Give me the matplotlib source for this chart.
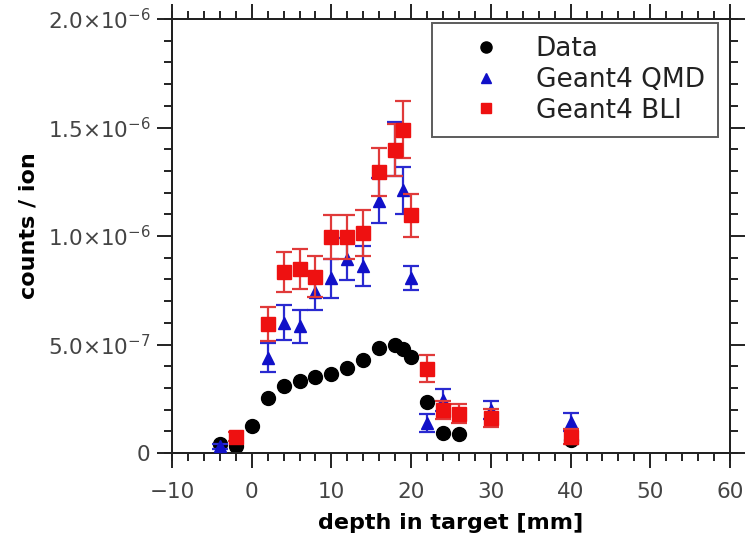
import matplotlib
matplotlib.use('Agg')
import matplotlib.pyplot as plt
from matplotlib.ticker import MultipleLocator
from matplotlib.lines import Line2D

# measured data
data_x = [-4, -2, 0, 2, 4, 6, 8, 10, 12, 14, 16, 18, 19, 20, 22, 24, 26, 40]
data_y = [0.40e-7, 0.34e-7, 1.24e-7, 2.52e-7, 3.08e-7, 3.31e-7, 3.51e-7, 3.64e-7,
          3.91e-7, 4.28e-7, 4.85e-7, 5.00e-7, 4.80e-7, 4.42e-7, 2.36e-7, 0.90e-7,
          0.87e-7, 0.60e-7]

# Geant4 QMD
qmd_x = [-4, 2, 4, 6, 8, 10, 12, 14, 16, 18, 19, 20, 22, 24, 30, 40]
qmd_y = [0.30e-7, 4.40e-7, 6.00e-7, 5.85e-7, 7.42e-7, 8.05e-7, 8.95e-7, 8.62e-7,
         1.163e-6, 1.40e-6, 1.21e-6, 8.05e-7, 1.40e-7, 2.44e-7, 1.98e-7, 1.44e-7]
qmd_err = [0.10e-7, 0.68e-7, 0.80e-7, 0.76e-7, 0.82e-7, 0.90e-7, 0.98e-7, 0.92e-7,
           1.05e-7, 1.25e-7, 1.10e-7, 0.56e-7, 0.42e-7, 0.52e-7, 0.42e-7, 0.42e-7]

# Geant4 BLI
bli_x = [-2, 2, 4, 6, 8, 10, 12, 14, 16, 18, 19, 20, 22, 24, 26, 30, 40]
bli_y = [0.75e-7, 5.95e-7, 8.35e-7, 8.48e-7, 8.12e-7, 9.95e-7, 9.95e-7, 1.015e-6,
         1.295e-6, 1.395e-6, 1.49e-6, 1.095e-6, 3.88e-7, 1.98e-7, 1.82e-7, 1.62e-7,
         0.75e-7]
bli_err = [0.20e-7, 0.80e-7, 0.92e-7, 0.92e-7, 0.95e-7, 1.00e-7, 1.00e-7, 1.05e-7,
           1.12e-7, 1.20e-7, 1.30e-7, 0.98e-7, 0.62e-7, 0.40e-7, 0.45e-7, 0.40e-7,
           0.35e-7]

yticks = [0, 5e-7, 1e-6, 1.5e-6, 2e-6]
ytick_labels = ['0', r'$5.0{\times}10^{-7}$', r'$1.0{\times}10^{-6}$',
                r'$1.5{\times}10^{-6}$', r'$2.0{\times}10^{-6}$']

plt.rcParams['font.family'] = 'DejaVu Sans'
plt.rcParams['mathtext.fontset'] = 'dejavusans'

fig = plt.figure(figsize=(7.5, 5.37), dpi=100)
ax = fig.add_axes([172/750, 1-453/537, (730-172)/750, (453-19)/537])

blue = '#1010c8'
red = '#ee1111'
axcol = '#222222'

ax.errorbar(qmd_x, qmd_y, yerr=qmd_err, fmt='^', color=blue, ecolor='#2a2ad0',
            ms=9, capsize=6, elinewidth=1.6, capthick=1.6, zorder=3)
ax.errorbar(bli_x, bli_y, yerr=bli_err, fmt='s', color=red, ecolor='#e03a3a',
            ms=9.5, capsize=6, elinewidth=1.6, capthick=1.6, zorder=4)
ax.plot(data_x, data_y, 'o', color='black', ms=10, zorder=2)

ax.set_xlim(-10, 60)
ax.set_ylim(0, 2e-6)
ax.xaxis.set_major_locator(MultipleLocator(10))
ax.xaxis.set_minor_locator(MultipleLocator(2))
ax.set_yticks(yticks)
ax.set_yticklabels(ytick_labels)
ax.yaxis.set_minor_locator(MultipleLocator(1e-7))

ax.tick_params(which='both', direction='out', top=True, right=True,
               labeltop=False, labelright=False, width=1.4, color=axcol,
               labelsize=15.5, labelcolor='#444444')
ax.tick_params(which='major', length=10.5)
ax.tick_params(which='minor', length=5.8)
ax.tick_params(axis='x', which='major', pad=10.5)
ax.tick_params(axis='y', which='major', pad=5)
for s in ax.spines.values():
    s.set_linewidth(1.4)
    s.set_color(axcol)

# spines poke out a little past the corners
ext = 0.012
for xs, ys in [([-ext, 1 + ext], [0, 0]), ([-ext, 1 + ext], [1, 1]),
               ([0, 0], [-ext * 1.3, 1 + ext * 1.3]), ([1, 1], [-ext * 1.3, 1 + ext * 1.3])]:
    ax.add_line(Line2D(xs, ys, transform=ax.transAxes, color=axcol, lw=1.4,
                       clip_on=False))

ax.set_xlabel('depth in target [mm]', fontsize=16, fontweight='bold', labelpad=7.5)
ax.set_ylabel('counts / ion', fontsize=16, fontweight='bold')
ax.yaxis.set_label_coords(-0.24, 0.525)

hs = [Line2D([], [], ls='', marker='o', color='black', ms=8),
      Line2D([], [], ls='', marker='^', color=blue, ms=6.5),
      Line2D([], [], ls='', marker='s', color=red, ms=7)]
leg = ax.legend(hs, ['Data', 'Geant4 QMD', 'Geant4 BLI'], loc='upper right',
                bbox_to_anchor=(718/750, 1-23/537), bbox_transform=fig.transFigure,
                fontsize=19, frameon=True, fancybox=False, borderpad=0.5,
                handletextpad=0.3, labelspacing=0.18, handlelength=3.15,
                borderaxespad=0)
leg.get_frame().set_edgecolor('#333333')
leg.get_frame().set_linewidth(1.4)
for t in leg.get_texts():
    t.set_color(axcol)

fig.savefig('out.png', dpi=100)
